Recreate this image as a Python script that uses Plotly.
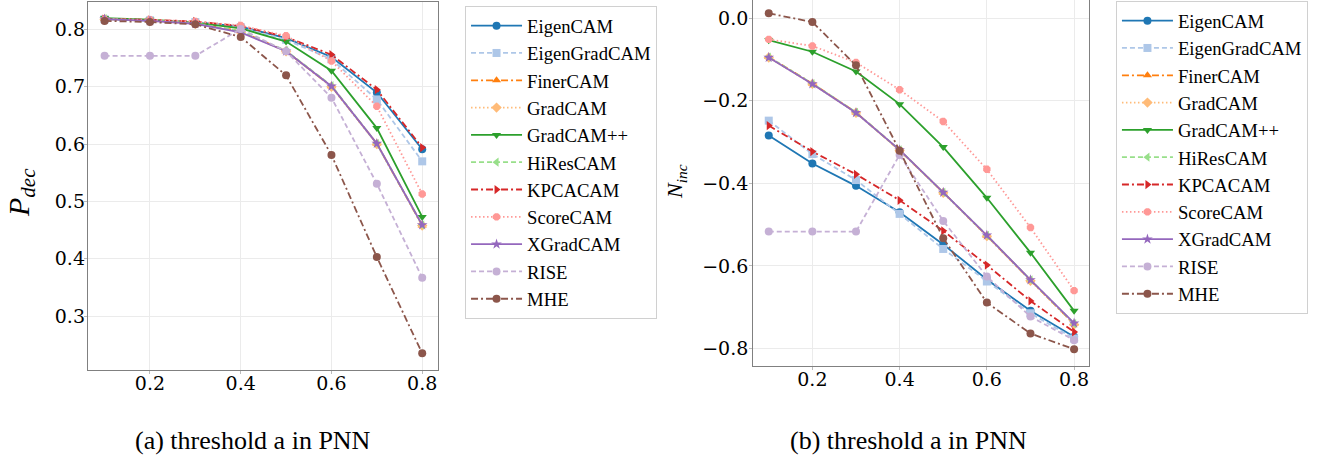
import plotly.graph_objects as go

thresholds = [0.1, 0.2, 0.3, 0.4, 0.5, 0.6, 0.7, 0.8]
methods = ["EigenCAM", "EigenGradCAM", "FinerCAM", "GradCAM", "GradCAM++", "HiResCAM",
           "KPCACAM", "ScoreCAM", "XGradCAM", "RISE", "MHE"]

# P_dec values (panel a)
pdec_eigencam = [0.818, 0.816, 0.813, 0.805, 0.785, 0.752, 0.690, 0.591]
pdec_eigengradcam = [0.818, 0.816, 0.813, 0.804, 0.782, 0.748, 0.678, 0.570]
pdec_finercam = [0.819, 0.816, 0.811, 0.797, 0.762, 0.701, 0.601, 0.458]
pdec_gradcam = [0.818, 0.815, 0.810, 0.796, 0.762, 0.700, 0.600, 0.458]
pdec_gradcampp = [0.820, 0.817, 0.812, 0.802, 0.779, 0.728, 0.628, 0.473]
pdec_hirescam = [0.819, 0.816, 0.811, 0.797, 0.763, 0.702, 0.601, 0.459]
pdec_kpcacam = [0.818, 0.817, 0.814, 0.806, 0.787, 0.756, 0.695, 0.594]
pdec_scorecam = [0.818, 0.817, 0.814, 0.807, 0.789, 0.745, 0.666, 0.513]
pdec_xgradcam = [0.818, 0.815, 0.810, 0.795, 0.762, 0.701, 0.601, 0.459]
pdec_rise = [0.754, 0.754, 0.754, 0.801, 0.762, 0.681, 0.531, 0.367]
pdec_mhe = [0.815, 0.813, 0.809, 0.787, 0.720, 0.581, 0.403, 0.235]

# N_inc values (panel b)
ninc_eigencam = [-0.284, -0.352, -0.406, -0.470, -0.548, -0.633, -0.709, -0.772]
ninc_eigengradcam = [-0.248, -0.329, -0.392, -0.474, -0.559, -0.638, -0.715, -0.776]
ninc_finercam = [-0.094, -0.158, -0.228, -0.320, -0.422, -0.527, -0.635, -0.741]
ninc_gradcam = [-0.095, -0.159, -0.229, -0.320, -0.423, -0.528, -0.636, -0.742]
ninc_gradcampp = [-0.053, -0.081, -0.129, -0.208, -0.312, -0.435, -0.568, -0.709]
ninc_hirescam = [-0.094, -0.158, -0.228, -0.319, -0.422, -0.526, -0.634, -0.740]
ninc_kpcacam = [-0.260, -0.323, -0.378, -0.441, -0.515, -0.598, -0.685, -0.760]
ninc_scorecam = [-0.051, -0.067, -0.107, -0.173, -0.250, -0.366, -0.507, -0.660]
ninc_xgradcam = [-0.095, -0.159, -0.229, -0.319, -0.422, -0.526, -0.634, -0.739]
ninc_rise = [-0.517, -0.517, -0.517, -0.331, -0.491, -0.626, -0.723, -0.780]
ninc_mhe = [0.012, -0.009, -0.114, -0.321, -0.533, -0.689, -0.764, -0.802]

pdec_series = [pdec_eigencam, pdec_eigengradcam, pdec_finercam, pdec_gradcam, pdec_gradcampp,
               pdec_hirescam, pdec_kpcacam, pdec_scorecam, pdec_xgradcam, pdec_rise, pdec_mhe]
ninc_series = [ninc_eigencam, ninc_eigengradcam, ninc_finercam, ninc_gradcam, ninc_gradcampp,
               ninc_hirescam, ninc_kpcacam, ninc_scorecam, ninc_xgradcam, ninc_rise, ninc_mhe]

colors = ["#1f77b4", "#aec7e8", "#ff7f0e", "#ffbb78", "#2ca02c", "#98df8a",
          "#d62728", "#ff9896", "#9467bd", "#c5b0d5", "#8c564b"]
DASH = "5px,3px"
DOT = "1.5px,2.5px"
DASHDOT = "7px,3px,2px,3px"
dashes = ["solid", DASH, DASHDOT, DOT, "solid", DASH,
          DASHDOT, DOT, "solid", DASH, DASHDOT]
symbols = ["circle", "square", "triangle-up", "diamond", "triangle-down", "triangle-left",
           "triangle-right", "octagon", "star", "circle", "circle"]

FONT = "Liberation Serif"
DIGIT_FONT = "DejaVu Serif"
fig = go.Figure()

for i, m in enumerate(methods):
    fig.add_trace(go.Scatter(
        x=thresholds, y=pdec_series[i], name=m, mode="lines+markers",
        line=dict(color=colors[i], dash=dashes[i], width=1.8),
        marker=dict(symbol=symbols[i], size=8, color=colors[i]),
        xaxis="x", yaxis="y", legend="legend"))
for i, m in enumerate(methods):
    fig.add_trace(go.Scatter(
        x=thresholds, y=ninc_series[i], name=m, mode="lines+markers",
        line=dict(color=colors[i], dash=dashes[i], width=1.8),
        marker=dict(symbol=symbols[i], size=8, color=colors[i]),
        xaxis="x2", yaxis="y2", legend="legend2"))

axis_common = dict(showline=True, mirror=True, linecolor="#808080", linewidth=1.4,
                   showgrid=True, gridcolor="#ebebeb", gridwidth=1,
                   ticks="outside", ticklen=3, tickcolor="#bbbbbb", tickwidth=1,
                   zeroline=False, tickformat=".1f",
                   tickfont=dict(family=DIGIT_FONT, size=19, color="black"))

fig.update_layout(
    width=1323, height=461, autosize=False,
    margin=dict(l=0, r=0, t=0, b=0),
    font=dict(family=FONT, color="black"),
    paper_bgcolor="white", plot_bgcolor="white",
    xaxis=dict(domain=[0.0665, 0.331], range=[0.0634, 0.8346], ticklabelstandoff=-7,
               tickvals=[0.2, 0.4, 0.6, 0.8], anchor="y", **axis_common),
    yaxis=dict(domain=[0.1974, 0.9957], range=[0.206, 0.848], ticklabelstandoff=-5,
               tickvals=[0.3, 0.4, 0.5, 0.6, 0.7, 0.8], anchor="x", **axis_common),
    xaxis2=dict(domain=[0.5694, 0.8234], range=[0.0646, 0.835], ticklabelstandoff=-7,
                tickvals=[0.2, 0.4, 0.6, 0.8], anchor="y2", **axis_common),
    yaxis2=dict(domain=[0.2067, 1.0], range=[-0.842, 0.0444], ticklabelstandoff=-3,
                tickvals=[-0.8, -0.6, -0.4, -0.2, 0.0], anchor="x2", **axis_common),
    legend=dict(x=0.3515, y=1 - 6 / 461, xanchor="left", yanchor="top",
                bordercolor="#d0d0d0", borderwidth=1, bgcolor="white", itemwidth=51,
                font=dict(family=FONT, size=18.7, color="black")),
    legend2=dict(x=0.8435, y=1 - 1 / 461, xanchor="left", yanchor="top",
                 bordercolor="#d0d0d0", borderwidth=1, bgcolor="white", itemwidth=51,
                 font=dict(family=FONT, size=18.7, color="black")),
    annotations=[
        dict(text="<i>P<sub>dec</sub></i>", x=21 / 1323, y=1 - 193 / 461,
             xref="paper", yref="paper", showarrow=False, textangle=-90,
             xanchor="center", yanchor="middle",
             font=dict(family=FONT, size=30, color="black")),
        dict(text="<i>N<sub>inc</sub></i>", x=676 / 1323, y=1 - 182 / 461,
             xref="paper", yref="paper", showarrow=False, textangle=-90,
             xanchor="center", yanchor="middle",
             font=dict(family=FONT, size=22, color="black")),
        dict(text="(a) threshold a in PNN", x=253 / 1323, y=1 - 440 / 461,
             xref="paper", yref="paper", showarrow=False,
             xanchor="center", yanchor="middle",
             font=dict(family=FONT, size=26, color="black")),
        dict(text="(b) threshold a in PNN", x=908 / 1323, y=1 - 440 / 461,
             xref="paper", yref="paper", showarrow=False,
             xanchor="center", yanchor="middle",
             font=dict(family=FONT, size=26, color="black")),
    ],
)

fig.write_html("out.html")
